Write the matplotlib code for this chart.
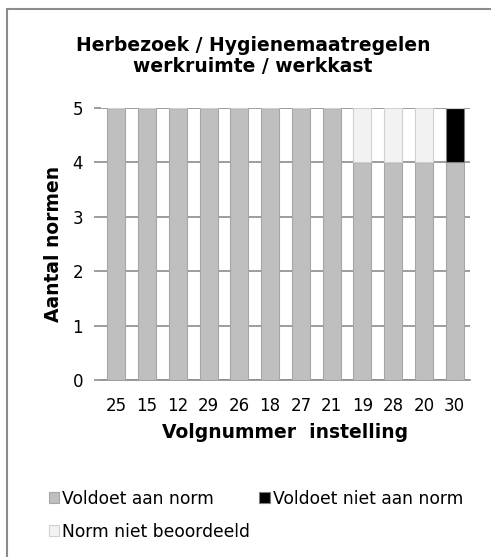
import matplotlib.pyplot as plt
from matplotlib.patches import Rectangle
import numpy as np

instellingen = ['25', '15', '12', '29', '26', '18', '27', '21', '19', '28', '20', '30']
voldoet = [5, 5, 5, 5, 5, 5, 5, 5, 4, 4, 4, 4]
voldoet_niet = [0, 0, 0, 0, 0, 0, 0, 0, 0, 0, 0, 1]
niet_beoordeeld = [0, 0, 0, 0, 0, 0, 0, 0, 1, 1, 1, 0]

fig = plt.figure(figsize=(4.91, 5.57), dpi=100)
fig.patches.append(Rectangle((7 / 491, -0.1), 1.2, 1 - 9 / 557 + 0.1, transform=fig.transFigure,
                             fill=False, edgecolor='#8c8c8c', linewidth=1.5))
ax = fig.add_axes([101 / 491, 1 - 380 / 557, 369 / 491, 272 / 557])

x = np.arange(len(instellingen))
w = 0.58
b1 = ax.bar(x, voldoet, w, color='#bfbfbf', edgecolor='#a6a6a6', linewidth=0.8,
            label='Voldoet aan norm', zorder=3)
bottom = np.array(voldoet)
b2 = ax.bar(x, voldoet_niet, w, bottom=bottom, color='#000000', edgecolor='#7f7f7f',
            linewidth=0.8, label='Voldoet niet aan norm', zorder=3)
bottom = bottom + np.array(voldoet_niet)
b3 = ax.bar(x, niet_beoordeeld, w, bottom=bottom, color='#f2f2f2', edgecolor='#d0d0d0',
            linewidth=0.8, label='Norm niet beoordeeld', zorder=3)

ax.set_xlim(-0.5, len(instellingen) - 0.5)
ax.set_ylim(0, 5)
ax.set_yticks(range(6))
ax.yaxis.grid(True, color='#8c8c8c', linewidth=1.2, zorder=0)
ax.set_xticks(x)
ax.set_xticklabels(instellingen, fontsize=12)
ax.tick_params(axis='x', length=0, pad=12)
ax.tick_params(axis='y', length=5, color='#8c8c8c', width=1.2, labelsize=12, pad=8)
for s in ['top', 'right', 'left']:
    ax.spines[s].set_visible(False)
ax.spines['bottom'].set_color('#8c8c8c')
ax.spines['bottom'].set_linewidth(1.2)

ax.set_xlabel('Volgnummer  instelling', fontsize=13.5, fontweight='bold', labelpad=6)
ax.set_ylabel('Aantal normen', fontsize=13.5, fontweight='bold', labelpad=7)
fig.text(0.515, 1 - 56 / 557, 'Herbezoek / Hygienemaatregelen\nwerkruimte / werkkast',
         ha='center', va='center', fontsize=13.5, fontweight='bold', linespacing=1.15)

h = [b1, b3, b2]
fig.legend(h, [o.get_label() for o in h], loc='upper left', bbox_to_anchor=(40 / 491, 1 - 481 / 557),
           ncol=2, frameon=False, fontsize=12.3, handlelength=0.6, handleheight=0.6,
           handletextpad=0.2, columnspacing=0.55, labelspacing=0.9, borderpad=0)

plt.savefig('out.png', dpi=100)
